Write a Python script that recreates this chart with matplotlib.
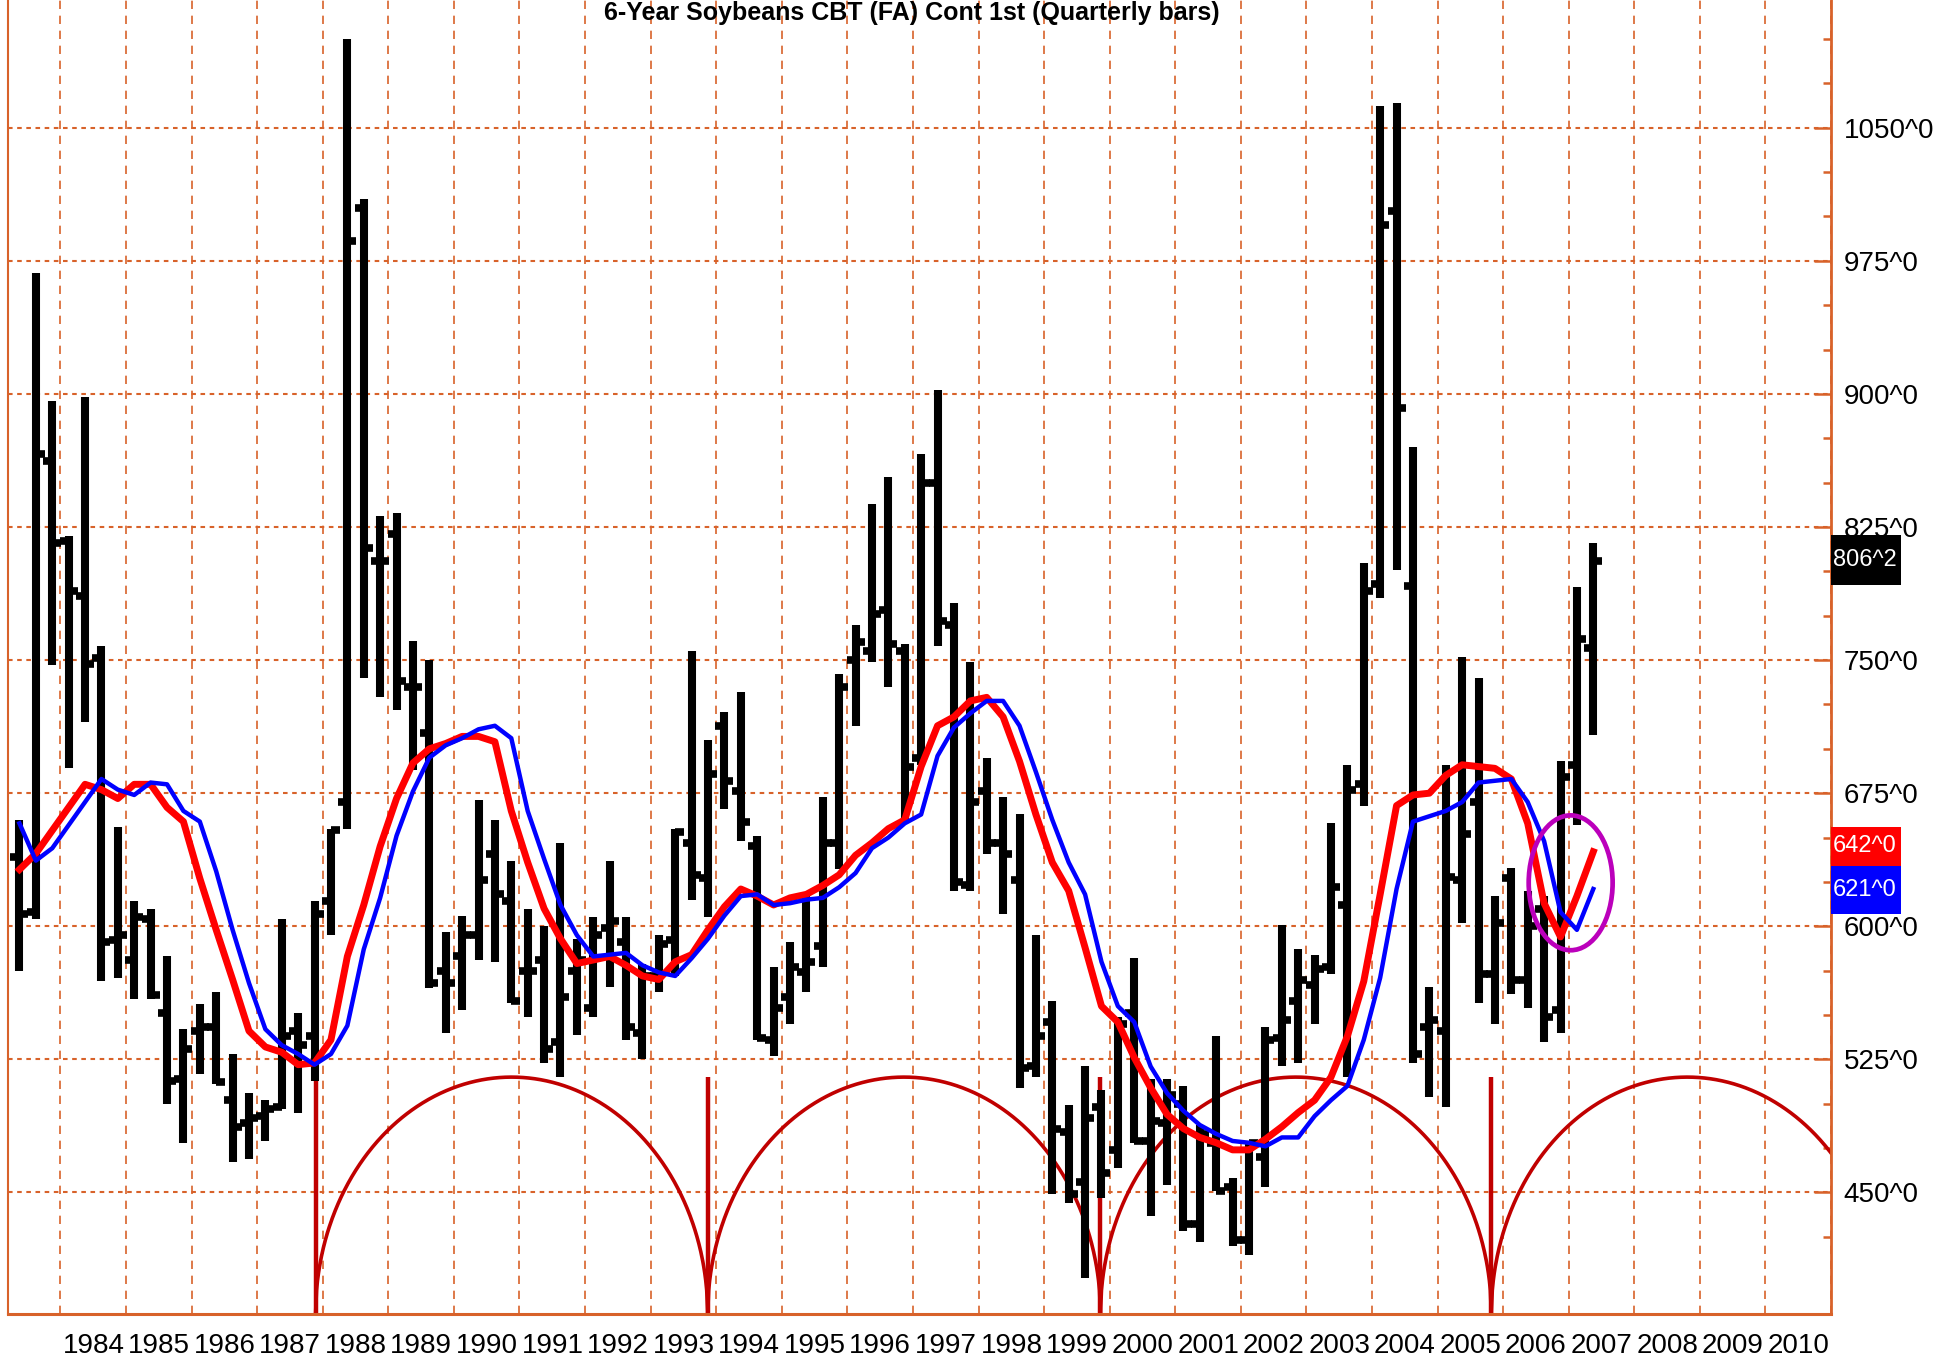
import numpy as np
import pandas as pd
import matplotlib
matplotlib.use("Agg")
import matplotlib.pyplot as plt
from matplotlib.patches import Ellipse, Rectangle
import matplotlib.transforms as mtransforms

FONT = ['Liberation Sans Narrow', 'Liberation Sans', 'DejaVu Sans']
plt.rcParams['font.family'] = FONT

# ---------------- data ----------------
title = "6-Year Soybeans CBT (FA) Cont 1st (Quarterly bars)"
periods = pd.period_range('1983Q2', '2007Q2', freq='Q')

opens = [639, 608, 862, 817, 786, 751, 592, 581, 604, 551, 514, 541, 543, 502, 489, 493,
         498, 541, 538, 614, 670, 1005, 806, 821, 735, 709, 575, 583, 595, 641, 614, 575,
         581, 535, 575, 554, 599, 591, 540, 572, 592, 647, 627, 713, 676, 645, 536, 560,
         574, 589, 647, 750, 755, 778, 755, 695, 850, 770, 623, 676, 647, 626, 521, 546,
         484, 456, 498, 474, 551, 479, 489, 500, 432, 478, 453, 423, 470, 537, 558, 567,
         577, 612, 680, 793, 1003, 792, 543, 541, 626, 670, 573, 627, 570, 610, 553, 691, 757]
highs = [660, 968, 896, 820, 898, 758, 656, 614, 610, 583, 542, 556, 563, 528, 506, 502,
         604, 551, 614, 655, 1100, 1010, 831, 833, 761, 750, 597, 606, 671, 660, 637, 610,
         600, 647, 593, 605, 637, 605, 579, 595, 655, 755, 705, 721, 732, 651, 577, 591,
         618, 673, 742, 770, 838, 853, 759, 866, 902, 782, 749, 695, 673, 663, 595, 558,
         499, 521, 508, 549, 582, 514, 514, 510, 488, 538, 458, 479, 543, 601, 587, 584,
         658, 691, 805, 1062, 1064, 870, 566, 691, 752, 740, 617, 633, 620, 617, 693, 791, 816]
lows = [575, 604, 747, 689, 715, 569, 571, 559, 559, 500, 478, 517, 511, 467, 469, 479,
        497, 495, 513, 595, 655, 740, 729, 722, 688, 565, 540, 553, 581, 580, 557, 549,
        523, 515, 539, 549, 566, 536, 525, 563, 572, 615, 605, 666, 648, 536, 527, 545,
        563, 577, 632, 713, 749, 735, 660, 691, 758, 620, 620, 641, 607, 509, 515, 449,
        444, 402, 447, 464, 478, 437, 454, 428, 422, 451, 420, 415, 453, 521, 523, 545,
        573, 515, 668, 785, 801, 523, 504, 498, 602, 557, 545, 562, 554, 535, 540, 657, 708]
closes = [607, 866, 816, 789, 748, 591, 595, 605, 561, 513, 531, 543, 512, 487, 492, 497,
          538, 533, 607, 654, 986, 813, 806, 738, 735, 568, 568, 595, 626, 618, 558, 575,
          531, 560, 581, 595, 603, 543, 572, 590, 653, 629, 686, 682, 659, 537, 554, 577,
          580, 647, 735, 760, 776, 759, 690, 850, 772, 625, 670, 647, 641, 520, 538, 486,
          449, 492, 461, 545, 479, 490, 505, 432, 483, 451, 423, 478, 536, 547, 570, 576,
          622, 677, 789, 995, 892, 528, 547, 628, 652, 573, 602, 570, 600, 549, 684, 762, 806]

ma_red = [632, 641, 654, 667, 680, 677, 672, 680, 680, 667, 659, 627, 598, 570, 541, 532,
          529, 522, 523, 536, 583, 612, 645, 672, 692, 700, 703, 707, 707, 704, 665, 636,
          610, 593, 579, 581, 583, 578, 572, 570, 580, 584, 598, 611, 621, 617, 612, 616,
          618, 623, 629, 640, 647, 655, 660, 690, 713, 718, 727, 729, 718, 693, 663, 636,
          620, 588, 555, 546, 526, 509, 494, 486, 481, 478, 474, 474, 480, 487, 495, 502,
          515, 538, 569, 618, 668, 674, 675, 685, 691, 690, 689, 683, 658, 613, 594, 617, 642]
ma_blue = [658, 637, 644, 657, 670, 683, 677, 674, 681, 680, 665, 659, 631, 598, 568, 542,
           533, 528, 522, 528, 544, 587, 616, 651, 676, 695, 702, 706, 711, 713, 706, 665,
           638, 612, 595, 583, 584, 585, 578, 574, 572, 582, 593, 606, 617, 618, 612, 613,
           615, 616, 622, 630, 644, 650, 658, 663, 696, 712, 720, 727, 727, 713, 687, 660,
           636, 618, 580, 555, 546, 521, 506, 496, 488, 483, 479, 478, 476, 481, 481, 493,
           502, 510, 536, 571, 621, 659, 662, 665, 670, 681, 682, 683, 670, 648, 608, 598, 621]

years = list(range(1984, 2011))
year_labels = [str(y) for y in years]
price_ticks = [450, 525, 600, 675, 750, 825, 900, 975, 1050]
price_minor = [425, 475, 500, 550, 575, 625, 650, 700, 725, 775, 800, 850, 875,
               925, 950, 1000, 1025, 1075, 1100]
cycle_lows = [1987.89, 1993.87, 1999.86, 2005.82]
cycle_arc_top = 515

last_price, last_label = 806.25, "806^2"
red_last, red_label = 642, "642^0"
blue_last, blue_label = 621, "621^0"
circle_center = (2007.03, 624.5)
circle_size = (1.28, 76)

# ---------------- styling ----------------
GRID = '#D8622A'
ARC = '#C00000'

W, H = 1946, 1364
fig = plt.figure(figsize=(W / 100, H / 100), dpi=100)
x0, x1 = 8, 1831
ybot = 1314
ax = fig.add_axes([x0 / W, 1 - ybot / H, (x1 - x0) / W, ybot / H])
XMIN, XMAX = 1983.2, 2011.0
YMIN, YMAX = 381.5, 1122
ax.set_xlim(XMIN, XMAX)
ax.set_ylim(YMIN, YMAX)

px_x = (XMAX - XMIN) / (x1 - x0)   # years per pixel
px_y = (YMAX - YMIN) / ybot        # price per pixel

x = np.array([p.year + (p.quarter - 1) / 4 + 0.125 for p in periods])

# grid
for v in price_ticks:
    ax.axhline(v, color=GRID, lw=1.5, ls=(0, (2.2, 2.2)), zorder=1)
for yv in years + [2011]:
    ax.axvline(yv, color=GRID, lw=1.2, ls=(0, (5, 4)), zorder=1)

# cycle arcs and lows
spacing = np.mean(np.diff(cycle_lows))
ends = cycle_lows[1:] + [cycle_lows[-1] + spacing]
for a, b in zip(cycle_lows, ends):
    t = np.linspace(a, b, 400)
    mid, half = (a + b) / 2, (b - a) / 2
    yy = YMIN + (cycle_arc_top - YMIN) * np.sqrt(np.clip(1 - ((t - mid) / half) ** 2, 0, 1))
    ax.plot(t, yy, color=ARC, lw=2.6, zorder=2, solid_capstyle='butt')
for c in cycle_lows:
    ax.vlines(c, YMIN, cycle_arc_top, color=ARC, lw=3.2, zorder=2)

# OHLC bars
ax.vlines(x, lows, highs, color='black', lw=5.8, zorder=3, capstyle='butt')
tw = 9 * px_x
ax.hlines(opens, x - tw, x, color='black', lw=5.5, zorder=3)
ax.hlines(closes, x, x + tw, color='black', lw=5.5, zorder=3)

# moving averages
ax.plot(x, ma_red, color='#FF0000', lw=5.0, zorder=4, solid_joinstyle='round')
ax.plot(x, ma_blue, color='#0000FF', lw=3.2, zorder=5, solid_joinstyle='round')

# magenta circle
ax.add_patch(Ellipse(circle_center, circle_size[0], circle_size[1], fill=False,
                     ec='#BB00BB', lw=3.4, zorder=6))

# axes styling
ax.spines['top'].set_visible(False)
ax.spines['left'].set_color(GRID)
ax.spines['left'].set_linewidth(1.5)
ax.spines['bottom'].set_color(GRID)
ax.spines['bottom'].set_linewidth(2.2)
ax.spines['right'].set_color(GRID)
ax.spines['right'].set_linewidth(2.0)

ax.yaxis.tick_right()
ax.set_yticks(price_ticks)
ax.set_yticklabels([f"{v}^0" for v in price_ticks])
ax.set_yticks(price_minor, minor=True)
ax.tick_params(axis='y', which='major', direction='in', length=12, width=1.8,
               color=GRID, labelsize=20, pad=9, labelcolor='black')
ax.tick_params(axis='y', which='minor', direction='in', length=6, width=1.8, color=GRID)

ax.set_xticks(years)
ax.set_xticklabels(year_labels)
ax.tick_params(axis='x', which='both', length=0, labelsize=20, pad=14, labelcolor='black')
offset = mtransforms.ScaledTranslation(2 / 100, 0, fig.dpi_scale_trans)
for lab in ax.get_xticklabels():
    lab.set_ha('left')
    lab.set_transform(lab.get_transform() + offset)

# price boxes on the right axis
trans = mtransforms.blended_transform_factory(ax.transAxes, ax.transData)
box_w = 70 / (x1 - x0)
def price_box(text, face, yb, yt):
    ax.add_patch(Rectangle((1.0, yb), box_w, yt - yb, transform=trans, fc=face, ec='none',
                           clip_on=False, zorder=10))
    ax.text(1.0 + 2 / (x1 - x0), (yb + yt) / 2, text, transform=trans, color='white',
            fontsize=17, ha='left', va='center', clip_on=False, zorder=11)

price_box(last_label, 'black', last_price - 25 * px_y, last_price + 25 * px_y)
price_box(red_label, '#FF0000', 634.1, 656.1)
price_box(blue_label, '#0000FF', 607.0, 634.1)

# title at the very top edge
fig.text((x0 + x1) / 2 / W - 0.004, 1 - 1 / H, title, ha='center', va='top',
         fontsize=18, fontweight='bold', color='black')

fig.savefig('out.png', dpi=100, facecolor='white')
